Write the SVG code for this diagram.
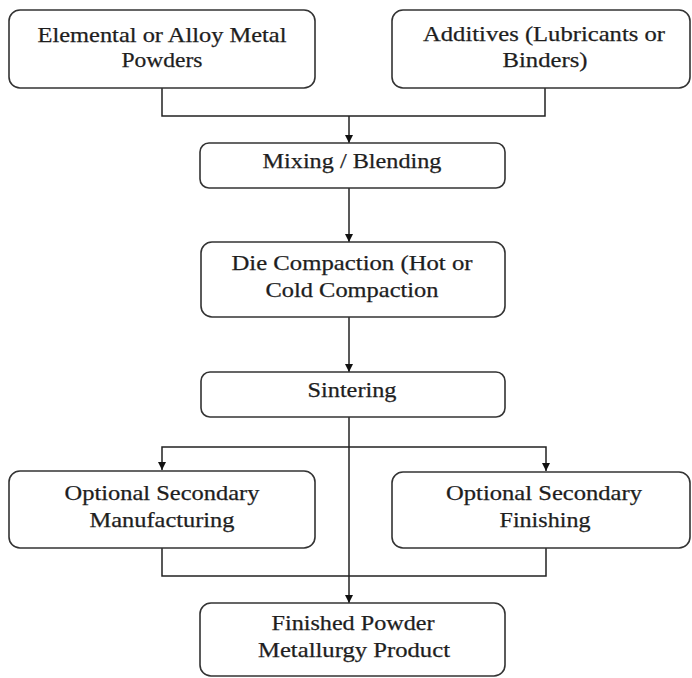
<svg xmlns="http://www.w3.org/2000/svg" width="692" height="678" viewBox="0 0 692 678">
<defs>
<style>
.box{fill:#fff;stroke:#333;stroke-width:1.6}
.t{font-family:"Liberation Serif","Times New Roman",serif;font-size:21px;fill:#1e1e1e;stroke:#1e1e1e;stroke-width:0.25;text-anchor:middle}
.c{fill:none;stroke:#222;stroke-width:1.5}
</style>
<marker id="ah" viewBox="0 0 10 10" refX="10" refY="5" markerWidth="8" markerHeight="9" markerUnits="userSpaceOnUse" orient="auto">
<path d="M0,0 L10,5 L0,10 z" fill="#111"/>
</marker>
</defs>
<rect width="692" height="678" fill="#fff"/>
<g id="connectors">
<path class="c" d="M162,88 V116 H545 V88"/>
<path class="c" d="M349,116 V143" marker-end="url(#ah)"/>
<path class="c" d="M349,188 V242" marker-end="url(#ah)"/>
<path class="c" d="M349,317 V372" marker-end="url(#ah)"/>
<path class="c" d="M349,417 V603" marker-end="url(#ah)"/>
<path class="c" d="M349,447 H162 V470" marker-end="url(#ah)"/>
<path class="c" d="M349,447 H546 V471" marker-end="url(#ah)"/>
<path class="c" d="M162,548 V576 H546 V548"/>
</g>
<g id="n1">
<rect class="box" x="9" y="10" width="306" height="78" rx="11"/>
<text class="t" x="162" y="42" textLength="249" lengthAdjust="spacingAndGlyphs">Elemental or Alloy Metal</text>
<text class="t" x="162" y="67" textLength="81" lengthAdjust="spacingAndGlyphs">Powders</text>
</g>
<g id="n2">
<rect class="box" x="392" y="10" width="298" height="78" rx="11"/>
<text class="t" x="544" y="41" textLength="242" lengthAdjust="spacingAndGlyphs">Additives (Lubricants or</text>
<text class="t" x="545" y="67" textLength="85" lengthAdjust="spacingAndGlyphs">Binders)</text>
</g>
<g id="n3">
<rect class="box" x="200" y="143" width="305" height="45" rx="9"/>
<text class="t" x="352" y="168" textLength="179" lengthAdjust="spacingAndGlyphs">Mixing / Blending</text>
</g>
<g id="n4">
<rect class="box" x="201" y="242" width="304" height="75" rx="11"/>
<text class="t" x="352" y="270" textLength="241" lengthAdjust="spacingAndGlyphs">Die Compaction (Hot or</text>
<text class="t" x="352" y="297" textLength="173" lengthAdjust="spacingAndGlyphs">Cold Compaction</text>
</g>
<g id="n5">
<rect class="box" x="201" y="372" width="304" height="45" rx="9"/>
<text class="t" x="352" y="397" textLength="89" lengthAdjust="spacingAndGlyphs">Sintering</text>
</g>
<g id="n6">
<rect class="box" x="9" y="471" width="306" height="77" rx="11"/>
<text class="t" x="162" y="500" textLength="195" lengthAdjust="spacingAndGlyphs">Optional Secondary</text>
<text class="t" x="162" y="527" textLength="145" lengthAdjust="spacingAndGlyphs">Manufacturing</text>
</g>
<g id="n7">
<rect class="box" x="392" y="472" width="298" height="76" rx="11"/>
<text class="t" x="544" y="500" textLength="196" lengthAdjust="spacingAndGlyphs">Optional Secondary</text>
<text class="t" x="545" y="527" textLength="91" lengthAdjust="spacingAndGlyphs">Finishing</text>
</g>
<g id="n8">
<rect class="box" x="200" y="603" width="305" height="73" rx="11"/>
<text class="t" x="353" y="630" textLength="163" lengthAdjust="spacingAndGlyphs">Finished Powder</text>
<text class="t" x="354" y="657" textLength="192" lengthAdjust="spacingAndGlyphs">Metallurgy Product</text>
</g>
</svg>
